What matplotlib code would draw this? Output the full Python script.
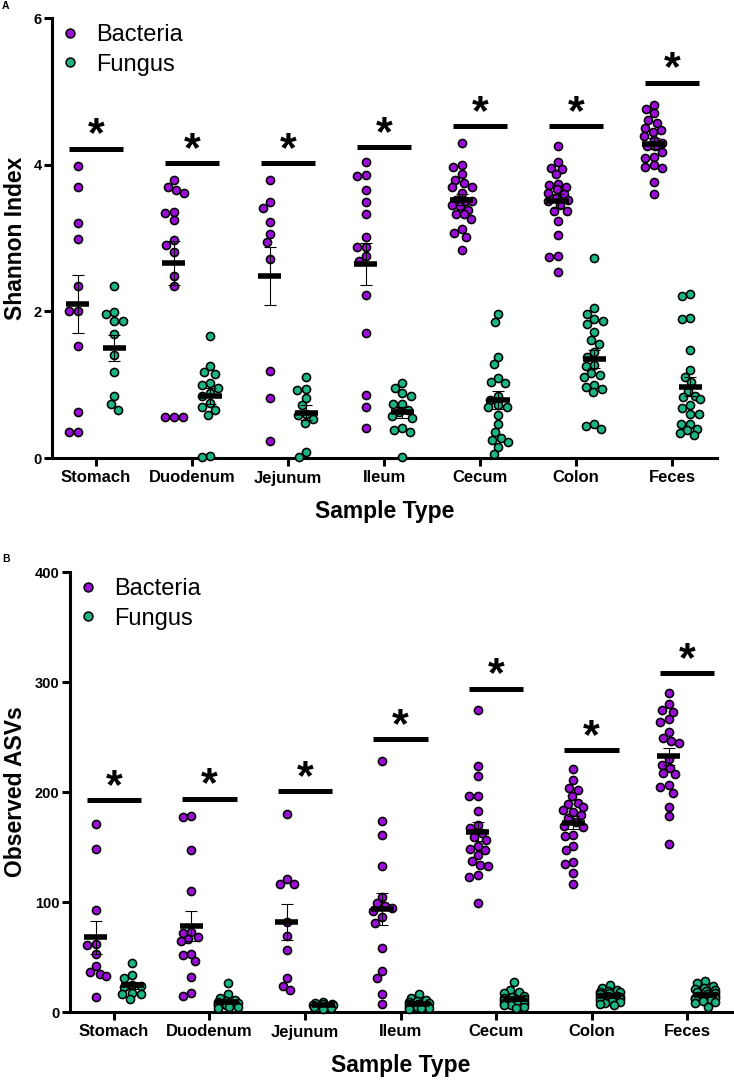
# Alpha diversity por tipo de amostra - Shannon e ASVs observados

import numpy as np
import matplotlib
matplotlib.use('Agg')
import matplotlib.pyplot as plt
from matplotlib.lines import Line2D

plt.rcParams['font.family'] = ['Liberation Sans', 'DejaVu Sans']

categories = ['Stomach', 'Duodenum', 'Jejunum', 'Ileum', 'Cecum', 'Colon', 'Feces']

# Painel A - Shannon Index
shannon_bacteria = [
    [3.98, 3.70, 3.20, 2.99, 2.34, 2.00, 2.00, 1.53, 0.63, 0.36, 0.36],
    [3.79, 3.70, 3.65, 3.62, 3.36, 3.34, 3.24, 2.97, 2.91, 2.81, 2.48, 2.35, 0.56, 0.56, 0.56],
    [3.79, 3.49, 3.41, 3.22, 3.05, 2.94, 2.71, 1.19, 0.82, 0.23],
    [4.04, 3.86, 3.84, 3.65, 3.49, 3.33, 3.02, 2.88, 2.88, 2.75, 2.68, 2.22, 1.70, 0.86, 0.70, 0.41],
    [4.29, 3.99, 3.97, 3.87, 3.79, 3.75, 3.70, 3.70, 3.61, 3.52, 3.50, 3.50, 3.45, 3.43, 3.38,
     3.33, 3.33, 3.26, 3.12, 3.07, 3.02, 2.84],
    [4.26, 4.04, 3.96, 3.94, 3.87, 3.73, 3.72, 3.70, 3.67, 3.62, 3.60, 3.55, 3.52, 3.50, 3.45,
     3.37, 3.37, 3.23, 3.04, 2.76, 2.74, 2.53],
    [4.82, 4.76, 4.70, 4.61, 4.57, 4.50, 4.47, 4.45, 4.39, 4.33, 4.29, 4.26, 4.25, 4.17, 4.11,
     4.09, 3.99, 3.97, 3.95, 3.77, 3.60],
]
shannon_fungus = [
    [2.35, 1.99, 1.97, 1.87, 1.87, 1.69, 1.40, 1.17, 0.84, 0.73, 0.65],
    [1.66, 1.25, 1.17, 1.15, 1.02, 0.99, 0.96, 0.88, 0.84, 0.75, 0.70, 0.65, 0.58, 0.03, 0.01],
    [1.10, 0.94, 0.93, 0.82, 0.72, 0.60, 0.58, 0.53, 0.48, 0.08, 0.02],
    [1.02, 0.95, 0.88, 0.84, 0.74, 0.74, 0.65, 0.63, 0.57, 0.55, 0.41, 0.38, 0.36, 0.02],
    [1.97, 1.86, 1.38, 1.28, 1.09, 1.03, 1.02, 0.84, 0.79, 0.72, 0.70, 0.70, 0.59, 0.47, 0.36,
     0.27, 0.25, 0.22, 0.15, 0.05],
    [2.73, 2.04, 1.97, 1.89, 1.87, 1.83, 1.72, 1.61, 1.55, 1.45, 1.38, 1.27, 1.25, 1.16, 1.13,
     1.10, 1.00, 0.97, 0.94, 0.90, 0.47, 0.43, 0.40],
    [2.23, 2.21, 1.91, 1.89, 1.47, 1.20, 1.11, 1.03, 0.92, 0.84, 0.83, 0.81, 0.72, 0.68, 0.60,
     0.60, 0.47, 0.47, 0.40, 0.38, 0.34, 0.31],
]
shannon_sig = [4.22, 4.02, 4.02, 4.24, 4.53, 4.53, 5.12]

# Painel B - Observed ASVs
asv_bacteria = [
    [171, 148, 93, 62, 61, 53, 42, 36, 35, 33, 14],
    [178, 177, 147, 110, 73, 72, 68, 66, 65, 53, 52, 46, 32, 17, 15],
    [180, 121, 116, 116, 82, 69, 56, 31, 24, 20],
    [228, 174, 161, 133, 105, 99, 96, 95, 92, 86, 81, 58, 37, 31, 16, 7],
    [275, 224, 215, 196, 196, 183, 170, 167, 163, 159, 156, 151, 148, 147, 143, 137, 134, 133,
     125, 123, 99],
    [221, 211, 204, 202, 196, 190, 189, 186, 184, 182, 179, 176, 173, 169, 168, 161, 160, 151,
     147, 136, 135, 126, 116],
    [290, 280, 275, 273, 266, 264, 255, 249, 246, 245, 230, 225, 222, 217, 216, 206, 205, 199,
     186, 178, 153],
]
asv_fungus = [
    [45, 34, 31, 25, 24, 23, 17, 16, 16, 12],
    [26, 16, 13, 11, 10, 9, 8, 8, 7, 7, 6, 6, 5, 5, 4],
    [9, 8, 7, 7, 6, 6, 5, 5, 4, 3],
    [16, 13, 11, 10, 9, 8, 7, 7, 6, 5, 5, 4, 4, 3],
    [27, 20, 18, 17, 15, 14, 13, 12, 12, 11, 10, 9, 9, 8, 8, 7, 6, 6, 5, 4],
    [25, 22, 20, 19, 18, 18, 17, 16, 15, 15, 14, 14, 13, 12, 12, 11, 10, 9, 8, 7, 6],
    [28, 26, 24, 22, 21, 20, 19, 18, 17, 16, 15, 15, 14, 13, 13, 12, 12, 11, 10, 9, 8, 5],
]
asv_sig = [193, 194, 201, 248, 294, 238, 308]

PURPLE = '#9B0FD8'
GREEN = '#1DB584'
DOT_PX = 9.0      # diametro do ponto em pixels
OFFSET = 0.19     # deslocamento bacteria/fungo em relacao ao centro da categoria


def swarm_offsets(ax, xc, values, max_px=10):
    # arranjo tipo "beeswarm" feito em pixels, depois volta para coordenadas de dados
    vals = np.asarray(values, dtype=float)
    pts = ax.transData.transform(np.column_stack([np.full(len(vals), xc), vals]))
    px_unit = ax.transData.transform((1, 0))[0] - ax.transData.transform((0, 0))[0]
    cand = np.arange(-max_px, max_px + 0.25, 0.5)
    d = DOT_PX * 0.95
    placed = []
    offs = np.zeros(len(vals))
    for i in np.argsort(-vals, kind='stable'):
        y = pts[i, 1]
        if placed:
            pa = np.array(placed)
            dist = np.hypot(cand[:, None] - pa[None, :, 0], y - pa[None, :, 1])
            pen = np.clip(d - dist, 0, None).sum(axis=1)
            score = pen * 1000 + np.abs(cand) + (cand > 0) * 0.01
            best = cand[np.argmin(score)]
        else:
            best = 0.0
        placed.append((best, y))
        offs[i] = best
    return xc + offs / px_unit


def draw_panel(ax, bacteria, fungus, sig, ylim, yticks, ylabel):
    ax.set_xlim(-0.46, 6.47)
    ax.set_ylim(*ylim)
    x = np.arange(len(categories))

    for i in range(len(categories)):
        for vals, dx, color in ((bacteria[i], -OFFSET, PURPLE), (fungus[i], OFFSET, GREEN)):
            xs = swarm_offsets(ax, x[i] + dx, vals)
            ax.scatter(xs, vals, s=34, color=color, edgecolor='black', linewidth=1.15,
                       zorder=3, clip_on=False)
            m = np.mean(vals)
            sem = np.std(vals, ddof=1) / np.sqrt(len(vals))
            ax.errorbar(x[i] + dx, m, yerr=sem, fmt='none', ecolor='black', elinewidth=0.8,
                        capsize=4.5, capthick=0.8, zorder=4)
            ax.hlines(m, x[i] + dx - 0.12, x[i] + dx + 0.12, color='black', linewidth=4,
                      zorder=5)

        # linha de significancia com asterisco
        ax.hlines(sig[i], x[i] - 0.285, x[i] + 0.285, color='black', linewidth=3.6, zorder=5)
        ax.annotate('*', (x[i], sig[i]), xytext=(0, 1.5), textcoords='offset points',
                    ha='center', va='baseline', fontsize=31, fontweight='bold', zorder=6)

    ax.spines['top'].set_visible(False)
    ax.spines['right'].set_visible(False)
    ax.spines['left'].set_linewidth(2.2)
    ax.spines['bottom'].set_linewidth(2.2)

    ax.set_xticks(x)
    ax.set_xticklabels(categories, fontsize=12, fontweight='bold')
    ax.set_yticks(yticks)
    ax.set_yticklabels([str(t) for t in yticks], fontsize=10.5, fontweight='bold')
    ax.tick_params(axis='x', length=5.5, width=2.2, pad=3.5)
    ax.tick_params(axis='y', length=5.5, width=2.2, pad=2)

    ax.set_xlabel('Sample Type', fontsize=16.5, fontweight='bold')
    ax.xaxis.set_label_coords(0.5, -0.095)
    ax.xaxis.label.set_va('top')
    ax.set_ylabel(ylabel, fontsize=16.5, fontweight='bold')

    handles = [Line2D([], [], linestyle='none', marker='o', markersize=6.4,
                      markerfacecolor=PURPLE, markeredgecolor='black', markeredgewidth=1.1),
               Line2D([], [], linestyle='none', marker='o', markersize=6.4,
                      markerfacecolor=GREEN, markeredgecolor='black', markeredgewidth=1.1)]
    ax.legend(handles, ['Bacteria', 'Fungus'], loc='upper left', bbox_to_anchor=(0, 1),
              frameon=False, fontsize=17, borderaxespad=0, borderpad=0.25,
              handlelength=1.0, handletextpad=0.6, labelspacing=0.33)


def main():
    W, H = 734, 1082
    fig = plt.figure(figsize=(W / 100, H / 100), dpi=100)

    # posicoes medidas em pixels na figura original
    ax_a = fig.add_axes([52 / W, 1 - 458 / H, 665 / W, 440 / H])
    ax_b = fig.add_axes([70 / W, 1 - 1012 / H, 662 / W, 440 / H])

    draw_panel(ax_a, shannon_bacteria, shannon_fungus, shannon_sig, (0, 6), [0, 2, 4, 6],
               'Shannon Index')
    draw_panel(ax_b, asv_bacteria, asv_fungus, asv_sig, (0, 400), [0, 100, 200, 300, 400],
               'Observed ASVs')
    ax_a.yaxis.set_label_coords(-(52 - 27) / 665, 0.5)
    ax_b.yaxis.set_label_coords(-(70 - 27) / 662, 0.5)

    fig.text(2 / W, 1 - 1 / H, 'A', fontsize=7.5, fontweight='bold', va='top')
    fig.text(2 / W, 1 - 554 / H, 'B', fontsize=7.5, fontweight='bold', va='top')

    fig.savefig('out.png', dpi=100)


main()
